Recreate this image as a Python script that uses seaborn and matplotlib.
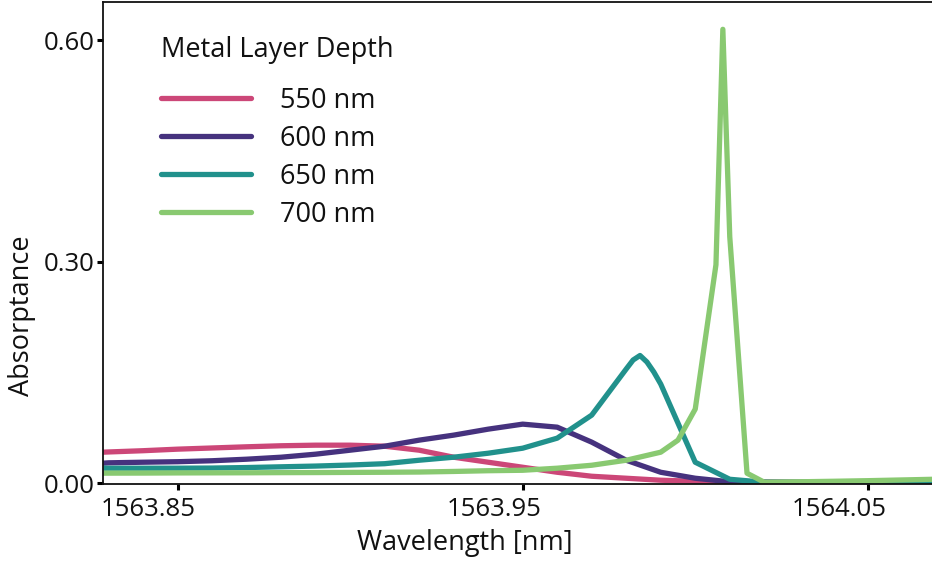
import numpy as np
import pandas as pd
import matplotlib

matplotlib.use("Agg")

import matplotlib.pyplot as plt
import matplotlib.transforms as mtransforms
import seaborn as sns

# =====================================
# Data
# =====================================

depths = ["550 nm", "600 nm", "650 nm", "700 nm"]
colors = ["#cc4778", "#46327e", "#21918c", "#89c971"]

grid = [1563.82, 1563.83, 1563.84, 1563.85, 1563.86, 1563.87, 1563.88,
        1563.89, 1563.90, 1563.91, 1563.92, 1563.93, 1563.94, 1563.95,
        1563.96, 1563.97, 1563.98, 1563.99, 1564.00, 1564.01, 1564.02,
        1564.03, 1564.04, 1564.05, 1564.06, 1564.07]

abs_550 = [0.0405, 0.0424, 0.0441, 0.0462, 0.0478, 0.0494, 0.0508,
           0.0516, 0.0516, 0.0502, 0.0448, 0.0353, 0.0285, 0.0217,
           0.0149, 0.0095, 0.0068, 0.0041, 0.0027, 0.0020, 0.0015,
           0.0012, 0.0010, 0.0010, 0.0010, 0.0010]

abs_600 = [0.0244, 0.0277, 0.0285, 0.0292, 0.0305, 0.0326, 0.0353,
           0.0394, 0.0448, 0.0502, 0.0584, 0.0652, 0.0733, 0.0801,
           0.0760, 0.0557, 0.0312, 0.0149, 0.0068, 0.0020, 0.0014,
           0.0012, 0.0010, 0.0010, 0.0010, 0.0010]

wl_650 = [1563.82, 1563.83, 1563.84, 1563.85, 1563.86, 1563.87, 1563.88,
          1563.89, 1563.90, 1563.91, 1563.92, 1563.93, 1563.94, 1563.95,
          1563.96, 1563.97, 1563.98, 1563.982, 1563.984, 1563.986,
          1563.988, 1563.99, 1564.00, 1564.01, 1564.02, 1564.03, 1564.04,
          1564.05, 1564.06, 1564.07]
abs_650 = [0.0204, 0.0204, 0.0204, 0.0204, 0.0206, 0.0213, 0.0223,
           0.0233, 0.0247, 0.0265, 0.0312, 0.0353, 0.0407, 0.0475,
           0.0611, 0.0923, 0.1548, 0.1670, 0.1731, 0.1643,
           0.1507, 0.1344, 0.0285, 0.0054, 0.0014, 0.0012, 0.0010,
           0.0010, 0.0010, 0.0010]

wl_700 = [1563.82, 1563.83, 1563.84, 1563.85, 1563.86, 1563.87, 1563.88,
          1563.89, 1563.90, 1563.91, 1563.92, 1563.93, 1563.94, 1563.95,
          1563.96, 1563.97, 1563.98, 1563.99, 1563.995, 1564.00, 1564.006,
          1564.008, 1564.01, 1564.015, 1564.02, 1564.03, 1564.04, 1564.05,
          1564.06, 1564.07]
abs_700 = [0.0136, 0.0137, 0.0138, 0.0140, 0.0141, 0.0142, 0.0144,
           0.0145, 0.0147, 0.0149, 0.0152, 0.0160, 0.0170, 0.0176,
           0.0204, 0.0244, 0.0312, 0.0421, 0.0584, 0.1005, 0.2960,
           0.6150, 0.3340, 0.0136, 0.0014, 0.0020, 0.0027, 0.0035,
           0.0045, 0.0055]

frames = [
    pd.DataFrame({"wavelength": grid, "absorptance": abs_550, "depth": depths[0]}),
    pd.DataFrame({"wavelength": grid, "absorptance": abs_600, "depth": depths[1]}),
    pd.DataFrame({"wavelength": wl_650, "absorptance": abs_650, "depth": depths[2]}),
    pd.DataFrame({"wavelength": wl_700, "absorptance": abs_700, "depth": depths[3]}),
]
spectra = pd.concat(frames, ignore_index=True)

# =====================================
# Plot
# =====================================

sns.set_style("white")
plt.rcParams["font.family"] = ["Open Sans", "DejaVu Sans"]
plt.rcParams["font.size"] = 19.5
plt.rcParams["text.color"] = "#111111"
plt.rcParams["axes.labelcolor"] = "#111111"
plt.rcParams["xtick.color"] = "#111111"
plt.rcParams["ytick.color"] = "#111111"

fig = plt.figure(figsize=(9.32, 5.65), dpi=100)
ax = fig.add_axes([103 / 932, 81 / 565, 1 - 103 / 932, 482 / 565])

sns.lineplot(
    data=spectra,
    x="wavelength",
    y="absorptance",
    hue="depth",
    hue_order=depths,
    palette=colors,
    estimator=None,
    linewidth=3.8,
    ax=ax,
)

ax.set_xlim(1563.8284, 1564.0686)
ax.set_ylim(-0.001, 0.652)
ax.set_xticks([1563.85, 1563.95, 1564.05])
ax.set_xticklabels(["1563.85", "1563.95", "1564.05"])
ax.set_yticks([0.0, 0.3, 0.6])
ax.set_yticklabels(["0.00", "0.30", "0.60"])

ax.set_xlabel("Wavelength [nm]", fontsize=19.5)
ax.set_ylabel("Absorptance", fontsize=19.5)
# the axis titles sit off-centre in the reference
ax.xaxis.set_label_coords((465 - 103) / 829, (484 - 543) / 482)
ax.yaxis.set_label_coords((22 - 103) / 829, (484 - 316) / 482)
ax.xaxis.label.set_va("center")
ax.yaxis.label.set_va("center")

for side in ["left", "top", "bottom"]:
    ax.spines[side].set_color("#111111")
    ax.spines[side].set_linewidth(1.3)
ax.spines["right"].set_visible(False)

ax.tick_params(axis="both", which="major", direction="out", length=4,
               width=2.2, color="black", labelsize=18.5, pad=2,
               bottom=True, left=True)
ax.tick_params(axis="x", pad=5)

# tick labels sit a bit left of their ticks in the reference
shift = mtransforms.ScaledTranslation(-29 / 100, 0, fig.dpi_scale_trans)
for label in ax.get_xticklabels():
    label.set_transform(label.get_transform() + shift)

handles, labels = ax.get_legend_handles_labels()
leg = ax.legend(
    handles,
    labels,
    title="Metal Layer Depth",
    loc="upper left",
    bbox_to_anchor=(0.054, 0.958),
    frameon=False,
    fontsize=19.5,
    title_fontsize=19.5,
    handlelength=3.33,
    handletextpad=1.04,
    labelspacing=0.37,
    borderpad=0,
    alignment="left",
)
leg._legend_box.sep = 16.5
for line in leg.get_lines():
    line.set_linewidth(3.8)

plt.savefig("out.png", dpi=100)
plt.close()
